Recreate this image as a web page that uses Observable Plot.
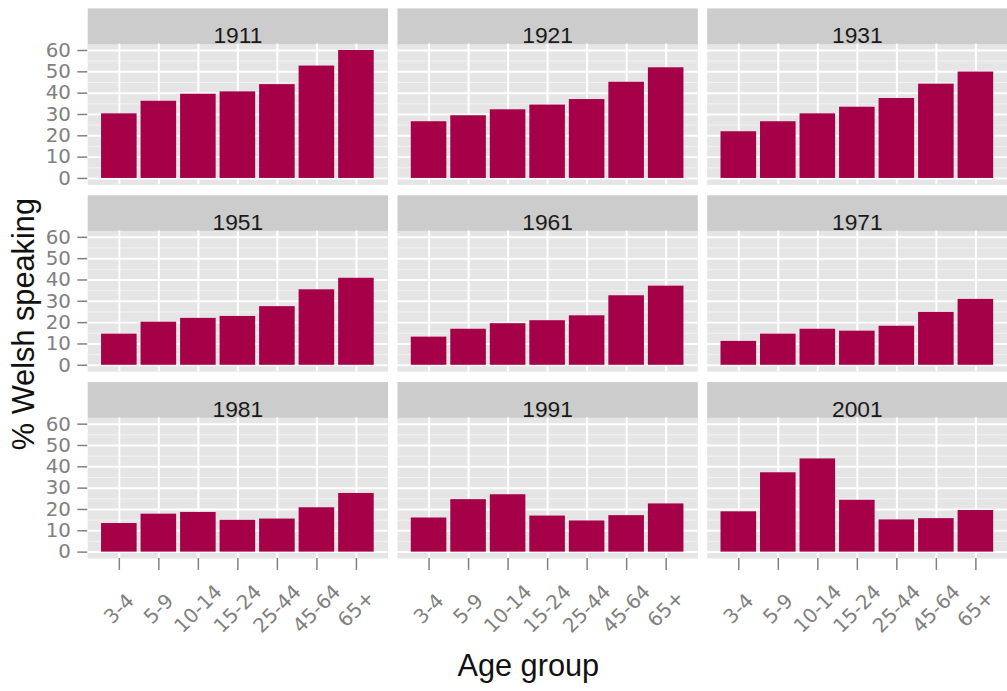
<!DOCTYPE html>
<html><head><meta charset="utf-8">
<script src="https://cdn.jsdelivr.net/npm/d3@7"></script>
<script src="https://cdn.jsdelivr.net/npm/@observablehq/plot@0.6"></script>
<style>
html,body{margin:0;padding:0;background:#fff;overflow:hidden;}
#chart svg{display:block;}
</style></head><body><div id="chart"></div>
<script>
// ---- data ----
const years = ["1911","1921","1931","1951","1961","1971","1981","1991","2001"];
const ageGroups = ["3-4","5-9","10-14","15-24","25-44","45-64","65+"];
const pct1911 = [30.3, 36.2, 39.5, 40.6, 44.0, 52.7, 60.0];
const pct1921 = [26.6, 29.4, 32.2, 34.4, 37.0, 45.1, 51.9];
const pct1931 = [21.9, 26.6, 30.3, 33.4, 37.5, 44.2, 49.9];
const pct1951 = [14.6, 20.2, 22.0, 22.9, 27.5, 35.4, 40.8];
const pct1961 = [13.2, 16.9, 19.5, 20.9, 23.2, 32.6, 37.1];
const pct1971 = [11.2, 14.6, 16.9, 16.0, 18.3, 24.8, 30.9];
const pct1981 = [13.4, 17.8, 18.6, 14.9, 15.5, 20.8, 27.5];
const pct1991 = [16.0, 24.6, 26.9, 16.9, 14.6, 17.1, 22.6];
const pct2001 = [18.9, 37.2, 43.7, 24.3, 15.1, 15.7, 19.5];
const yTicks = [0, 10, 20, 30, 40, 50, 60];
const yMinor = [5, 15, 25, 35, 45, 55];
const yDomain = [-3, 63];

const series = [pct1911, pct1921, pct1931, pct1951, pct1961, pct1971, pct1981, pct1991, pct2001];
const panels = years.map((year, i) => ({year, col: i % 3, row: Math.floor(i / 3)}));
const rows = panels.flatMap((p, i) => ageGroups.map((age, j) => ({...p, age, pct: series[i][j]})));

// ---- layout ----
const W = 1016, H = 691;
const mL = 88, mR = 0, mT = 8, mB = 128;
const stripH = 36;
const padX = 0.0304, padY = 0.0557;
const bandY = (H - mT - mB) / (3 - padY) * (1 - padY);
const panelH = bandY - stripH;

const grey = "#808080";
const font = "Liberation Sans, Arial, Helvetica, sans-serif";
const tickFont = "DejaVu Sans, Verdana, sans-serif";

const chart = Plot.plot({
  width: W, height: H,
  marginLeft: mL, marginRight: mR, marginTop: mT, marginBottom: mB,
  style: {fontFamily: font, background: "white", overflow: "visible"},
  fx: {domain: [0, 1, 2], paddingInner: padX, paddingOuter: 0, round: false, axis: null, label: null},
  fy: {domain: [0, 1, 2], paddingInner: padY, paddingOuter: 0, round: false, axis: null, label: null},
  x: {domain: ageGroups, paddingInner: 0.1, paddingOuter: 0.35, round: false, label: null},
  y: {domain: yDomain, insetTop: stripH, label: null},
  marks: [
    Plot.frame({fill: "#CCCCCC", stroke: "none", insetBottom: panelH - 2}),
    Plot.frame({fill: "#E5E5E5", stroke: "none", insetTop: stripH}),
    Plot.ruleY(yMinor, {stroke: "#F2F2F2", strokeWidth: 1}),
    Plot.ruleY(yTicks, {stroke: "white", strokeWidth: 2}),
    Plot.ruleX(ageGroups, {x: d => d, y1: yDomain[0], y2: yDomain[1], stroke: "white", strokeWidth: 2}),
    Plot.barY(rows, {x: "age", y: "pct", fx: "col", fy: "row", fill: "#A50048"}),
    Plot.text(panels, {fx: "col", fy: "row", text: "year", frameAnchor: "top", dy: stripH / 2 + 1,
      fontSize: 23, fill: "#1a1a1a", fontFamily: font}),
    Plot.axisY(yTicks, {facetAnchor: "left", tickSize: 10, tickPadding: 7, fontSize: 20,
      color: grey, strokeWidth: 1.5, label: null, fontFamily: tickFont}),
    Plot.axisX({facetAnchor: "bottom", tickSize: 12, tickPadding: 39, tickRotate: -45,
      textAnchor: "middle", lineAnchor: "middle", fontSize: 20, color: grey, strokeWidth: 1.5,
      label: null, fontFamily: tickFont})
  ]
});

const svg = d3.select(chart);
svg.append("text")
  .attr("transform", "translate(26,327) rotate(-90)")
  .attr("text-anchor", "middle").attr("dominant-baseline", "middle")
  .attr("font-size", 31).attr("font-family", font).attr("fill", "#111")
  .text("% Welsh speaking");
svg.append("text")
  .attr("x", 533).attr("y", 682)
  .attr("text-anchor", "middle")
  .attr("font-size", 31).attr("font-family", font).attr("fill", "#111")
  .text("Age group");

document.getElementById("chart").appendChild(chart);
</script>
</body></html>
